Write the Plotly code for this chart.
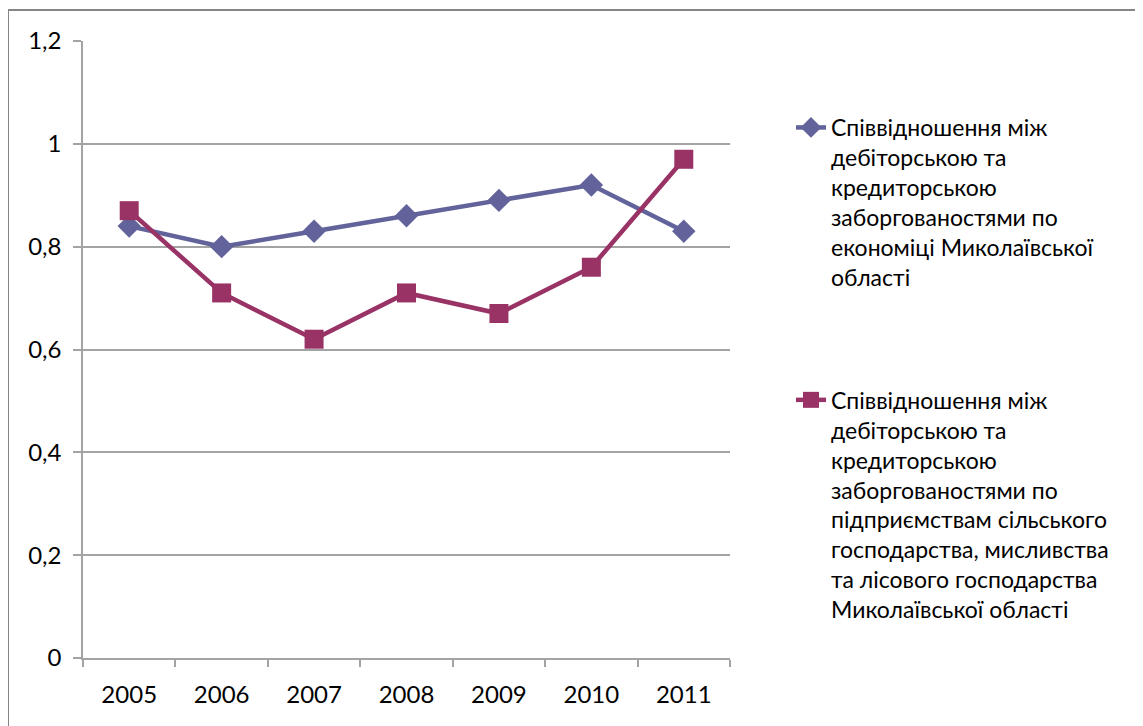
import plotly.graph_objects as go

years = ["2005", "2006", "2007", "2008", "2009", "2010", "2011"]
economy = [0.84, 0.80, 0.83, 0.86, 0.89, 0.92, 0.83]
agriculture = [0.87, 0.71, 0.62, 0.71, 0.67, 0.76, 0.97]

name_economy = ("Співвідношення між<br>дебіторською та<br>кредиторською<br>"
                "заборгованостями по<br>економіці Миколаївської<br>області")
name_agri = ("Співвідношення між<br>дебіторською та<br>кредиторською<br>"
             "заборгованостями по<br>підприємствам сільського<br>"
             "господарства, мисливства<br>та лісового господарства<br>Миколаївської області")

W, H = 1143, 726
OFF = 8  # page body margin
# plot area in page pixel coords
L, R, T, B = 83, 730, 41, 658
pw, ph = R - L, B - T

def px(x):
    return (x - L) / pw

def py(y):
    return (B - y) / ph

FONT = "Lato, 'Noto Sans', sans-serif"
BLUE = "#63639C"
RED = "#993366"
GRID = "#A3A3A3"

fig = go.Figure()
fig.add_trace(go.Scatter(
    x=years, y=economy, name=name_economy, mode="lines+markers",
    line=dict(color=BLUE, width=4.5),
    marker=dict(symbol="diamond", size=18, color=BLUE),
    legendgroup="a",
))
fig.add_trace(go.Scatter(
    x=years, y=agriculture, name=name_agri, mode="lines+markers",
    line=dict(color=RED, width=4.5),
    marker=dict(symbol="square", size=19, color=RED),
    legendgroup="b",
))

fig.update_layout(
    width=W, height=H,
    margin=dict(l=L - OFF, r=W - (R - OFF), t=T - OFF, b=H - (B - OFF), pad=0,
                autoexpand=False),
    paper_bgcolor="white", plot_bgcolor="white",
    separators=", ",
    font=dict(family=FONT, size=22, color="black"),
    showlegend=True,
    legend=dict(
        x=px(791), xanchor="left", y=py(106), yanchor="top",
        font=dict(family=FONT, size=23, color="black"),
        tracegroupgap=90, bgcolor="rgba(0,0,0,0)",
        valign="top",
    ),
    xaxis=dict(
        type="category", range=[-0.5, 6.5],
        showline=True, linecolor=GRID, linewidth=1.5,
        ticks="outside", ticklen=7, tickcolor=GRID, tickwidth=1.5,
        tickson="boundaries", showgrid=False, automargin=False,
        tickfont=dict(family=FONT, size=24, color="black"),
        ticklabelstandoff=14,
    ),
    yaxis=dict(
        range=[0, 1.2], dtick=0.2, tick0=0,
        showline=True, linecolor=GRID, linewidth=1.5,
        ticks="outside", ticklen=8, tickcolor=GRID, tickwidth=1.5,
        showgrid=True, gridcolor=GRID, gridwidth=1.5,
        zeroline=False, automargin=False,
        tickfont=dict(family=FONT, size=24, color="black"),
        ticklabelstandoff=7,
    ),
    shapes=[dict(
        type="rect", xref="paper", yref="paper",
        x0=px(8), x1=px(1160), y0=py(760), y1=py(10),
        line=dict(color="#868686", width=2), fillcolor="rgba(0,0,0,0)",
        layer="below",
    )],
)

fig.write_html("out.html")
